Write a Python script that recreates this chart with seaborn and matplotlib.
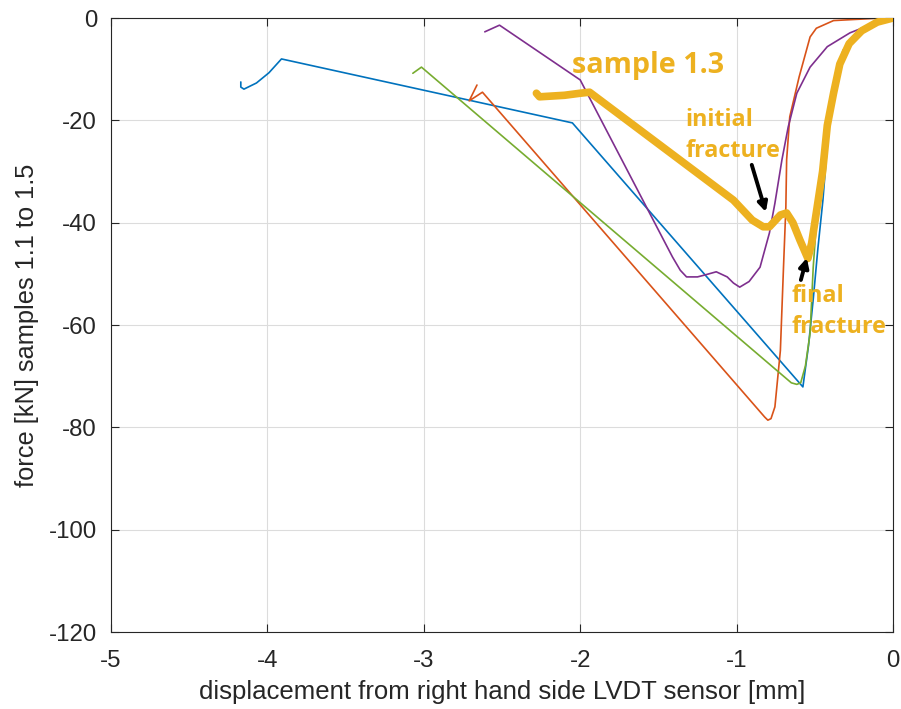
import matplotlib
matplotlib.use("Agg")
import matplotlib.pyplot as plt
import seaborn as sns
import pandas as pd

# ---- data ----
x_11 = [0, -0.1, -0.2, -0.28, -0.34, -0.38, -0.41, -0.448, -0.48, -0.51, -0.54, -0.576,
        -2.05, -3.91, -3.99, -4.07, -4.15, -4.17, -4.17]
y_11 = [0, -0.8, -2.5, -5, -9, -14.5, -21, -35.6, -45, -55, -64, -72.1,
        -20.5, -8.0, -10.7, -12.7, -13.9, -13.5, -12.5]

x_12 = [0, -0.13, -0.38, -0.49, -0.53, -0.6, -0.66, -0.68, -0.685, -0.70, -0.72, -0.755,
        -0.78, -0.80, -0.82, -2.625, -2.71, -2.66]
y_12 = [0, -0.1, -0.5, -2, -3.7, -11.5, -19.3, -27.7, -37, -48.7, -65, -76,
        -78.3, -78.6, -78, -14.5, -16.2, -13.1]

x_13 = [0, -0.1, -0.2, -0.28, -0.34, -0.38, -0.42, -0.45, -0.49, -0.52, -0.544, -0.595,
        -0.64, -0.68, -0.72, -0.79, -0.83, -0.9, -1.02, -1.94, -2.0, -2.1, -2.26, -2.28]
y_13 = [0, -0.8, -2.5, -5, -9, -14.7, -21, -30, -38, -44, -47, -43.4,
        -40, -38.1, -38.5, -40.8, -40.8, -39.5, -35.6, -14.5, -14.7, -15.1, -15.4, -14.7]

x_14 = [0, -0.1, -0.275, -0.42, -0.53, -0.615, -0.67, -0.71, -0.755, -0.79, -0.85, -0.92,
        -0.98, -1.02, -1.06, -1.13, -1.2, -1.25, -1.32, -1.36, -1.41, -2.0, -2.516, -2.61]
y_14 = [0, -0.8, -2.9, -5.6, -9.6, -14.7, -21.3, -27.7, -36.2, -42, -48.7, -51.5,
        -52.6, -51.8, -50.6, -49.6, -50.2, -50.6, -50.6, -49.3, -46.7, -12.1, -1.4, -2.7]

x_15 = [0, -0.1, -0.21, -0.32, -0.38, -0.42, -0.45, -0.48, -0.51, -0.53, -0.56, -0.59,
        -0.615, -0.65, -3.015, -3.07]
y_15 = [0, -0.9, -2.3, -6.3, -14.7, -21.3, -31, -36, -48.7, -61.6, -68, -71.3,
        -71.6, -71.3, -9.6, -10.8]

x_ticks = [-5, -4, -3, -2, -1, 0]
y_ticks = [-120, -100, -80, -60, -40, -20, 0]

samples = ["1.1", "1.2", "1.3", "1.4", "1.5"]
colors = {"1.1": "#0072BD", "1.2": "#D95319", "1.3": "#EDB120",
          "1.4": "#7E2F8E", "1.5": "#77AC30"}

series = {"1.1": (x_11, y_11), "1.2": (x_12, y_12), "1.3": (x_13, y_13),
          "1.4": (x_14, y_14), "1.5": (x_15, y_15)}

frames = []
for s in samples:
    xs, ys = series[s]
    frames.append(pd.DataFrame({"disp": xs, "force": ys, "sample": s,
                                "order": range(len(xs))}))
df = pd.concat(frames, ignore_index=True)

# ---- plotting ----
sns.set_style("white")
plt.rcParams["font.family"] = ["Liberation Sans", "DejaVu Sans"]

fig = plt.figure(figsize=(9.01, 7.09), dpi=100)
ax = fig.add_axes([0.1232, 0.1086, 0.8679, 0.866])

draw_order = ["1.1", "1.2", "1.5", "1.4", "1.3"]
for s in draw_order:
    sub = df[df["sample"] == s]
    lw = 5.5 if s == "1.3" else 1.2
    sns.lineplot(data=sub, x="disp", y="force", sort=False, estimator=None,
                 color=colors[s], linewidth=lw, ax=ax, legend=False,
                 solid_capstyle="round", solid_joinstyle="round",
                 zorder=3 if s == "1.3" else 2)

ax.set_xlim(-5, 0)
ax.set_ylim(-120, 0)
ax.set_xticks(x_ticks)
ax.set_yticks(y_ticks)
ax.set_xticklabels([str(t) for t in x_ticks])
ax.set_yticklabels([str(t) for t in y_ticks])
ax.grid(True, color="#dcdcdc", linewidth=0.8)
ax.set_axisbelow(True)
for sp in ax.spines.values():
    sp.set_color("#262626")
    sp.set_linewidth(0.8)
    sp.set_visible(True)
ax.tick_params(direction="in", length=6, width=0.8, colors="#262626",
               labelsize=17.3, top=True, right=True, left=True, bottom=True)
ax.tick_params(axis="x", pad=13)
ax.tick_params(axis="y", pad=10)
ax.set_xlabel("displacement from right hand side LVDT sensor [mm]",
              fontsize=18.5, color="#262626", labelpad=6)
ax.set_ylabel("force [kN] samples 1.1 to 1.5", fontsize=18.3, color="#262626",
              labelpad=7)

ann_color = "#EDB120"
afont = ["Open Sans", "DejaVu Sans"]
ax.text(-2.05, -10.75, "sample 1.3", color=ann_color, fontsize=20.7,
        fontweight="bold", family=afont, va="baseline", ha="left", zorder=5)
ax.text(-1.325, -21.1, "initial", color=ann_color, fontsize=16.8,
        fontweight="bold", family=afont, va="baseline", ha="left", zorder=5)
ax.text(-1.325, -27.2, "fracture", color=ann_color, fontsize=16.8,
        fontweight="bold", family=afont, va="baseline", ha="left", zorder=5)
ax.text(-0.647, -55.5, "final", color=ann_color, fontsize=16.8,
        fontweight="bold", family=afont, va="baseline", ha="left", zorder=5)
ax.text(-0.647, -61.6, "fracture", color=ann_color, fontsize=16.8,
        fontweight="bold", family=afont, va="baseline", ha="left", zorder=5)

arrow = dict(arrowstyle="-|>,head_length=0.55,head_width=0.28", color="black",
             lw=2.8, shrinkA=0, shrinkB=0)
ax.annotate("", xy=(-0.813, -37.9), xytext=(-0.903, -28.7), arrowprops=arrow,
            zorder=6)
ax.annotate("", xy=(-0.551, -46.9), xytext=(-0.589, -51.2), arrowprops=arrow,
            zorder=6)

fig.savefig("out.png", dpi=100)
